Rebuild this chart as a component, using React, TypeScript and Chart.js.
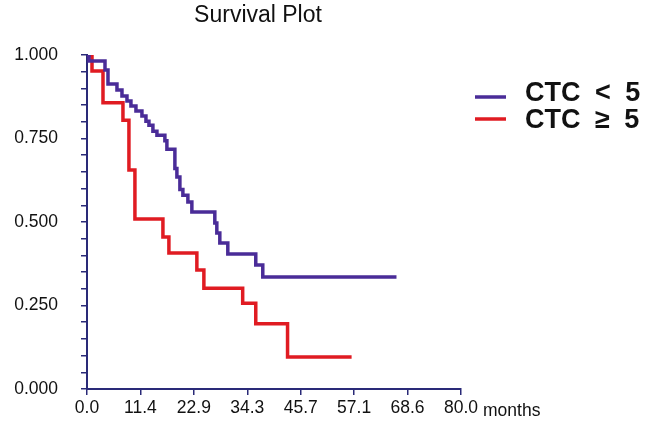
import React, { useEffect, useRef } from "react";
import { Chart, registerables } from "chart.js";

Chart.register(...registerables);

const chartTitle = "Survival Plot";
const xAxisUnit = "months";

// Kaplan-Meier steps: time (months) and survival after each event
const lowMonths = [0, 0.43, 3.85, 4.49, 6.41, 7.48, 8.55, 9.4, 10.47, 11.75, 12.61, 13.25, 14.1, 14.96, 16.66, 17.09, 18.8, 19.23, 19.87, 20.51, 21.58, 22.43, 27.34, 27.77, 28.41, 30.12, 36.1, 37.6, 66.2];
const lowSurvival = [1.0, 0.982, 0.955, 0.913, 0.895, 0.877, 0.862, 0.847, 0.832, 0.817, 0.802, 0.79, 0.772, 0.76, 0.743, 0.718, 0.66, 0.635, 0.597, 0.58, 0.56, 0.53, 0.497, 0.467, 0.437, 0.404, 0.371, 0.335, 0.335];

const highMonths = [0, 1.07, 3.42, 7.69, 8.97, 10.25, 16.24, 17.52, 23.5, 25.0, 33.3, 36.1, 42.9, 56.6];
const highSurvival = [1.0, 0.952, 0.857, 0.805, 0.656, 0.509, 0.455, 0.407, 0.356, 0.302, 0.257, 0.195, 0.096, 0.096];

const seriesLabels = ["CTC < 5", "CTC \u2265 5"];
const seriesColors = ["#4a2c98", "#e01b22"];

const xTickValues = [0, 11.43, 22.86, 34.29, 45.71, 57.14, 68.57, 80];
const xTickLabels = ["0.0", "11.4", "22.9", "34.3", "45.7", "57.1", "68.6", "80.0"];
const yLabelValues = [0, 0.25, 0.5, 0.75, 1.0];
const yTickLabels = ["0.000", "0.250", "0.500", "0.750", "1.000"];
const yMinorStep = 0.05;

const AXIS = "#2a2a78";
const FONT = "'Liberation Sans', Arial, sans-serif";

export default function App() {
  const ref = useRef<HTMLCanvasElement | null>(null);

  useEffect(() => {
    if (!ref.current) return;
    const toPts = (xs: number[], ys: number[]) => xs.map((x, i) => ({ x, y: ys[i] }));

    const decor = {
      id: "decor",
      afterDraw(chart: any) {
        const ctx = chart.ctx as CanvasRenderingContext2D;
        ctx.save();
        // title
        ctx.fillStyle = "#111";
        ctx.font = `23px ${FONT}`;
        ctx.textAlign = "center";
        ctx.textBaseline = "alphabetic";
        ctx.fillText(chartTitle, 258, 22);
        // unit label
        ctx.font = `17.5px ${FONT}`;
        ctx.textAlign = "left";
        ctx.fillText(xAxisUnit, 483, 416);
        // legend
        const ds = chart.data.datasets;
        const rows = [97, 119];
        const baselines = [101, 128];
        ds.forEach((d: any, i: number) => {
          ctx.strokeStyle = d.borderColor;
          ctx.lineWidth = 3.5;
          ctx.beginPath();
          ctx.moveTo(475, rows[i]);
          ctx.lineTo(506, rows[i]);
          ctx.stroke();
          ctx.fillStyle = "#111";
          ctx.font = `bold 27px ${FONT}`;
          (ctx as any).letterSpacing = "0px";
          (ctx as any).wordSpacing = "7px";
          ctx.textAlign = "left";
          ctx.fillText(d.label, 525, baselines[i]);
          (ctx as any).wordSpacing = "0px";
        });
        ctx.restore();
      },
    };

    const chart = new Chart(ref.current, {
      type: "line",
      data: {
        datasets: [
          {
            label: seriesLabels[0],
            data: toPts(lowMonths, lowSurvival),
            borderColor: seriesColors[0],
            backgroundColor: seriesColors[0],
            borderWidth: 3.5,
            stepped: "before",
            pointRadius: 0,
            fill: false,
          },
          {
            label: seriesLabels[1],
            data: toPts(highMonths, highSurvival),
            borderColor: seriesColors[1],
            backgroundColor: seriesColors[1],
            borderWidth: 3.5,
            stepped: "before",
            pointRadius: 0,
            fill: false,
          },
        ],
      },
      options: {
        responsive: false,
        animation: false,
        devicePixelRatio: 1,
        layout: { padding: { left: 0, top: 55, right: 189, bottom: 0 } },
        plugins: { legend: { display: false }, title: { display: false }, tooltip: { enabled: false } },
        scales: {
          x: {
            type: "linear",
            min: 0,
            max: 80,
            afterBuildTicks: (scale: any) => {
              scale.ticks = xTickValues.map((v) => ({ value: v }));
            },
            afterFit: (scale: any) => {
              scale.height = 35;
            },
            ticks: {
              autoSkip: false,
              maxRotation: 0,
              padding: 3,
              color: "#111",
              font: { family: FONT, size: 17.5 },
              callback: (_v: any, i: number) => xTickLabels[i],
            },
            grid: { display: true, drawOnChartArea: false, drawTicks: true, tickLength: 6, color: AXIS, lineWidth: 1.5 },
            border: { display: true, color: AXIS, width: 2 },
          },
          y: {
            type: "linear",
            min: 0,
            max: 1,
            afterBuildTicks: (scale: any) => {
              const t: any[] = [];
              const n = Math.round(1 / yMinorStep);
              for (let i = 0; i <= n; i++) t.push({ value: i * yMinorStep });
              scale.ticks = t;
            },
            afterFit: (scale: any) => {
              scale.width = 87;
            },
            ticks: {
              autoSkip: false,
              padding: 23,
              color: "#111",
              font: { family: FONT, size: 17.5 },
              callback: (v: any) => {
                const k = yLabelValues.findIndex((y) => Math.abs(y - Number(v)) < 1e-6);
                return k >= 0 ? yTickLabels[k] : "";
              },
            },
            grid: { display: true, drawOnChartArea: false, drawTicks: true, tickLength: 6, color: AXIS, lineWidth: 1.5 },
            border: { display: true, color: AXIS, width: 2 },
          },
        },
      },
      plugins: [decor],
    } as any);
    return () => chart.destroy();
  }, []);

  return (
    <div style={{ position: "absolute", left: 0, top: 0, width: 650, height: 424, background: "#fff" }}>
      <canvas ref={ref} width={650} height={424} style={{ width: 650, height: 424, display: "block" }} />
    </div>
  );
}
